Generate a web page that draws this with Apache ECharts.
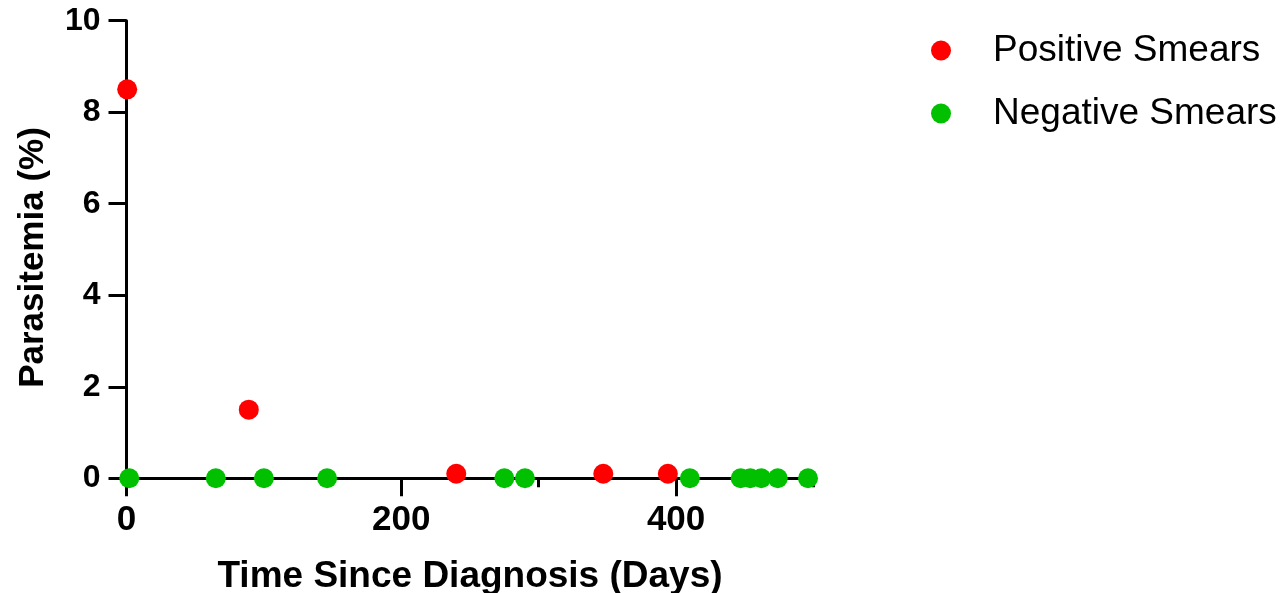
<!DOCTYPE html>
<html>
<head>
<meta charset="utf-8">
<script src="https://cdn.jsdelivr.net/npm/echarts@6/dist/echarts.min.js"></script>
<style>
html,body{margin:0;padding:0;background:#fff;}
#chart{width:1283px;height:593px;}
</style>
</head>
<body>
<div id="chart"></div>
<script>
// Data
const positiveDays = [0.5, 89, 240, 347, 394];
const positiveParasitemia = [8.5, 1.5, 0.1, 0.1, 0.1];
const negativeDays = [2, 65, 100, 146, 275, 290, 410, 447, 454, 462, 474, 496];
const negativeParasitemia = [0, 0, 0, 0, 0, 0, 0, 0, 0, 0, 0, 0];
const xMajorTicks = [0, 200, 400];
const xMinorTicks = [100, 300, 500];
const yTicks = [0, 2, 4, 6, 8, 10];
const seriesNames = ['Positive Smears', 'Negative Smears'];

const FONT = '"Liberation Sans", Arial, Helvetica, sans-serif';
const pair = (xs, ys) => xs.map((x, i) => [x, ys[i]]);

const chart = echarts.init(document.getElementById('chart'), null, {renderer: 'canvas'});
chart.setOption({
  animation: false,
  backgroundColor: '#ffffff',
  grid: {left: 126.5, right: 469.5, top: 20.7, bottom: 114.7, containLabel: false, outerBoundsMode: 'none'},
  legend: {
    orient: 'vertical',
    left: 926,
    top: 27,
    itemWidth: 20,
    itemHeight: 20,
    itemGap: 26,
    icon: 'circle',
    data: seriesNames,
    textStyle: {fontFamily: FONT, fontSize: 37, color: '#000', padding: [0, 0, 0, 37]}
  },
  xAxis: [{
    type: 'value',
    min: 0, max: 500, interval: 100,
    position: 'bottom',
    axisLine: {show: true, onZero: false, lineStyle: {color: '#000', width: 3}},
    axisTick: {show: true, length: 18, lineStyle: {color: '#000', width: 3}, customValues: xMajorTicks},
    axisLabel: {customValues: xMajorTicks, margin: 25, fontFamily: FONT, fontWeight: 'bold', fontSize: 35, color: '#000'},
    splitLine: {show: false},
    name: 'Time Since Diagnosis (Days)',
    nameLocation: 'middle',
    nameGap: 80,
    nameTextStyle: {fontFamily: FONT, fontWeight: 'bold', fontSize: 37, color: '#000'}
  }, {
    type: 'value',
    min: 0, max: 500, interval: 100,
    position: 'bottom',
    axisLine: {show: false},
    axisTick: {show: true, length: 9, lineStyle: {color: '#000', width: 3}, customValues: xMinorTicks},
    axisLabel: {show: false},
    splitLine: {show: false}
  }],
  yAxis: {
    type: 'value',
    min: 0, max: 10, interval: 2,
    axisLine: {show: true, onZero: false, lineStyle: {color: '#000', width: 3}},
    axisTick: {show: true, length: 18, lineStyle: {color: '#000', width: 3}, customValues: yTicks},
    axisLabel: {customValues: yTicks, margin: 26, fontFamily: FONT, fontWeight: 'bold', fontSize: 32, color: '#000'},
    splitLine: {show: false},
    name: 'Parasitemia (%)',
    nameLocation: 'middle',
    nameGap: 76,
    nameTextStyle: {fontFamily: FONT, fontWeight: 'bold', fontSize: 35, color: '#000', padding: [0, 16, 0, 0]}
  },
  series: [{
    name: seriesNames[0],
    type: 'scatter',
    xAxisIndex: 0,
    symbol: 'circle',
    symbolSize: 20,
    itemStyle: {color: '#ff0000', opacity: 1},
    data: pair(positiveDays, positiveParasitemia)
  }, {
    name: seriesNames[1],
    type: 'scatter',
    xAxisIndex: 0,
    symbol: 'circle',
    symbolSize: 20,
    itemStyle: {color: '#00c000', opacity: 1},
    data: pair(negativeDays, negativeParasitemia)
  }]
});
</script>
</body>
</html>
